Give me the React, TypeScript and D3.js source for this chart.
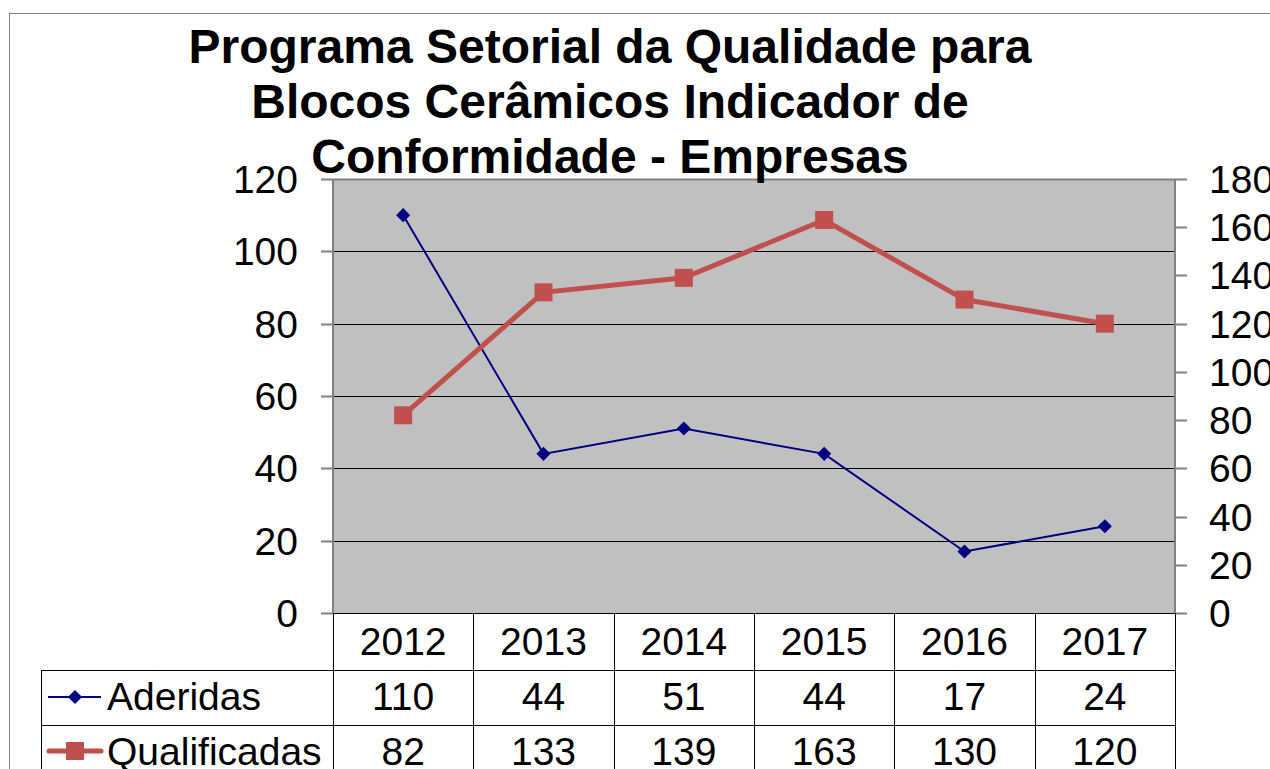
import * as d3 from "d3";

const years = ["2012", "2013", "2014", "2015", "2016", "2017"];
const aderidas = [110, 44, 51, 44, 17, 24];
const qualificadas = [82, 133, 139, 163, 130, 120];
const leftTicks = [0, 20, 40, 60, 80, 100, 120];
const rightTicks = [0, 20, 40, 60, 80, 100, 120, 140, 160, 180];
const titleLines = [
  "Programa Setorial da Qualidade para",
  "Blocos Cerâmicos Indicador de",
  "Conformidade - Empresas",
];

const W = 1270;
const H = 769;
const plot = { left: 333, right: 1175, top: 179, bottom: 613 };
const font = "Arial, 'Liberation Sans', sans-serif";

export default function App() {
  const x = d3.scaleBand().domain(years).range([plot.left, plot.right]);
  const yL = d3.scaleLinear().domain([0, 120]).range([plot.bottom, plot.top]);
  const yR = d3.scaleLinear().domain([0, 180]).range([plot.bottom, plot.top]);
  const cx = (d: string) => (x(d) ?? 0) + x.bandwidth() / 2;

  const lineA = d3.line<number>().x((_, i) => cx(years[i])).y((d) => yL(d));
  const lineQ = d3.line<number>().x((_, i) => cx(years[i])).y((d) => yR(d));

  const rowTop = [plot.bottom, 670, 725, 780];
  const tableLeft = 41;

  return (
    <svg width={W} height={H} style={{ position: "absolute", left: 0, top: 0 }} fontFamily={font}>
      <rect x={0} y={0} width={W} height={H} fill="#fff" />
      <rect x={9.5} y={13.5} width={W + 10} height={H + 10} fill="none" stroke="#808080" />

      {/* plot area */}
      <rect x={plot.left} y={plot.top} width={plot.right - plot.left} height={plot.bottom - plot.top} fill="#C0C0C0" />
      {leftTicks.filter((t) => t > 0 && t < 120).map((t) => (
        <line key={t} x1={plot.left} x2={plot.right} y1={Math.round(yL(t)) + 0.5} y2={Math.round(yL(t)) + 0.5} stroke="#000" />
      ))}
      <line x1={plot.left} x2={plot.right} y1={plot.top + 0.5} y2={plot.top + 0.5} stroke="#808080" strokeWidth={2} />
      <line x1={plot.left} x2={plot.left} y1={plot.top} y2={plot.bottom} stroke="#808080" strokeWidth={2} />
      <line x1={plot.right} x2={plot.right} y1={plot.top} y2={plot.bottom} stroke="#808080" strokeWidth={2} />

      {/* left axis */}
      {leftTicks.map((t) => (
        <g key={t}>
          <line x1={plot.left - 12} x2={plot.left} y1={Math.round(yL(t)) + 0.5} y2={Math.round(yL(t)) + 0.5} stroke="#808080" strokeWidth={2} />
          <text x={298} y={yL(t)} dy="0.36em" textAnchor="end" fontSize={39}>{t}</text>
        </g>
      ))}
      {/* right axis */}
      {rightTicks.map((t) => (
        <g key={t}>
          <line x1={plot.right} x2={plot.right + 12} y1={Math.round(yR(t)) + 0.5} y2={Math.round(yR(t)) + 0.5} stroke="#808080" strokeWidth={2} />
          <text x={1209} y={yR(t)} dy="0.36em" textAnchor="start" fontSize={39}>{t}</text>
        </g>
      ))}

      {/* series */}
      <path d={lineA(aderidas) ?? ""} fill="none" stroke="#000080" strokeWidth={2} />
      {aderidas.map((d, i) => (
        <rect key={i} x={-5} y={-5} width={10} height={10} fill="#000080"
          transform={`translate(${cx(years[i])},${yL(d)}) rotate(45)`} />
      ))}
      <path d={lineQ(qualificadas) ?? ""} fill="none" stroke="#C0504D" strokeWidth={5} />
      {qualificadas.map((d, i) => (
        <rect key={i} x={cx(years[i]) - 9} y={yR(d) - 9} width={18} height={18} fill="#C0504D" />
      ))}

      {/* title */}
      {titleLines.map((l, i) => (
        <text key={i} x={610} y={63 + i * 55} textAnchor="middle" fontSize={48} fontWeight="bold">{l}</text>
      ))}

      {/* data table */}
      <g stroke="#000" strokeWidth={1}>
        <line x1={plot.left} x2={plot.right} y1={plot.bottom + 0.5} y2={plot.bottom + 0.5} />
        {rowTop.slice(1, 3).map((r) => (
          <line key={r} x1={tableLeft} x2={plot.right} y1={r + 0.5} y2={r + 0.5} />
        ))}
        <line x1={tableLeft + 0.5} x2={tableLeft + 0.5} y1={rowTop[1]} y2={H} />
        {years.map((yr) => (
          <line key={yr} x1={Math.round(x(yr) ?? 0) + 0.5} x2={Math.round(x(yr) ?? 0) + 0.5} y1={plot.bottom} y2={H} />
        ))}
        <line x1={plot.right + 0.5} x2={plot.right + 0.5} y1={plot.bottom} y2={H} />
      </g>
      {years.map((yr) => (
        <text key={yr} x={cx(yr)} y={655} textAnchor="middle" fontSize={39}>{yr}</text>
      ))}
      {aderidas.map((d, i) => (
        <text key={i} x={cx(years[i])} y={710} textAnchor="middle" fontSize={39}>{d}</text>
      ))}
      {qualificadas.map((d, i) => (
        <text key={i} x={cx(years[i])} y={765} textAnchor="middle" fontSize={39}>{d}</text>
      ))}

      {/* legend keys */}
      <line x1={48} x2={101} y1={697} y2={697} stroke="#000080" strokeWidth={2} />
      <rect x={-5} y={-5} width={10} height={10} fill="#000080" transform="translate(75,697) rotate(45)" />
      <text x={107} y={710} fontSize={39}>Aderidas</text>
      <line x1={49} x2={101} y1={751} y2={751} stroke="#C0504D" strokeWidth={5} strokeLinecap="round" />
      <rect x={66} y={742} width={18} height={18} fill="#C0504D" />
      <text x={107} y={765} fontSize={39}>Qualificadas</text>
    </svg>
  );
}
